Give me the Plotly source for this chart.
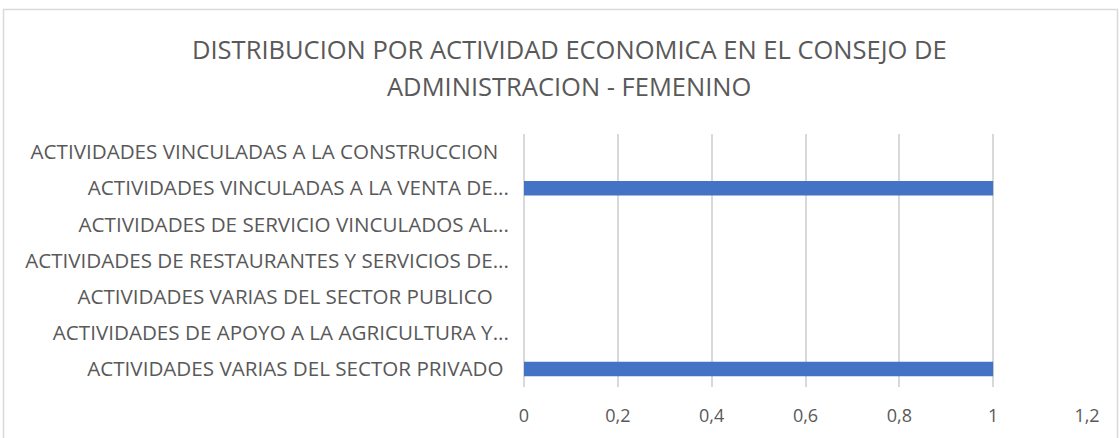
import plotly.graph_objects as go

# Economic activity categories, listed top to bottom as displayed
categories = [
    "ACTIVIDADES VINCULADAS A LA CONSTRUCCION",
    "ACTIVIDADES VINCULADAS A LA VENTA DE...",
    "ACTIVIDADES DE SERVICIO VINCULADOS AL...",
    "ACTIVIDADES DE RESTAURANTES Y SERVICIOS DE...",
    "ACTIVIDADES VARIAS DEL SECTOR PUBLICO",
    "ACTIVIDADES DE APOYO A LA AGRICULTURA Y...",
    "ACTIVIDADES VARIAS DEL SECTOR PRIVADO",
]
values = [0, 1, 0, 0, 0, 0, 1]

# trailing padding (non-breaking spaces) after each category label
label_pad = [2, 0, 0, 0, 3, 0, 1]
tick_labels = [c + "\u00a0" * p for c, p in zip(categories, label_pad)]

x_ticks = [0, 0.2, 0.4, 0.6, 0.8, 1, 1.2]

TEXT = "#595959"
GRID = "#d9d9d9"
FONT = "Open Sans"

fig = go.Figure(
    go.Bar(
        x=values,
        y=categories,
        orientation="h",
        marker=dict(color="#4472C4", line=dict(width=0)),
        width=0.4,
    )
)

fig.update_layout(
    width=1119,
    height=438,
    margin=dict(l=524, r=32, t=134, b=51),
    paper_bgcolor="white",
    plot_bgcolor="white",
    separators=",.",
    showlegend=False,
    font=dict(family=FONT, color=TEXT),
)

fig.update_xaxes(
    range=[0, 1.2],
    tickvals=x_ticks,
    tickfont=dict(size=18, color=TEXT),
    showgrid=True,
    gridcolor=GRID,
    gridwidth=1.5,
    zeroline=True,
    zerolinecolor=GRID,
    zerolinewidth=1.5,
    showline=False,
    ticks="outside",
    ticklen=12,
    tickcolor="rgba(0,0,0,0)",
    fixedrange=True,
)

fig.update_yaxes(
    categoryorder="array",
    categoryarray=categories,
    tickvals=categories,
    ticktext=tick_labels,
    autorange="reversed",
    tickfont=dict(size=20.6, color=TEXT),
    showgrid=False,
    showline=False,
    ticks="outside",
    ticklen=10,
    tickcolor="rgba(0,0,0,0)",
    fixedrange=True,
)

# chart title, two lines
title_lines = [
    "DISTRIBUCION POR ACTIVIDAD ECONOMICA EN EL CONSEJO DE",
    "ADMINISTRACION - FEMENINO",
]
for line, ypix in zip(title_lines, [49, 86]):
    fig.add_annotation(
        text=line,
        xref="paper", yref="paper",
        x=(569 - 524) / 563,
        y=(387 - ypix) / 253,
        xanchor="center", yanchor="middle",
        showarrow=False,
        font=dict(family=FONT, size=25.5, color=TEXT),
    )

# outer chart frame
fig.add_shape(
    type="rect",
    xref="paper", yref="paper",
    x0=(3.5 - 524) / 563, x1=(1117.5 - 524) / 563,
    y0=-0.4, y1=(387 - 9.5) / 253,
    line=dict(color=GRID, width=1.5),
    fillcolor="rgba(0,0,0,0)",
    layer="below",
)

fig.write_html("out.html")
